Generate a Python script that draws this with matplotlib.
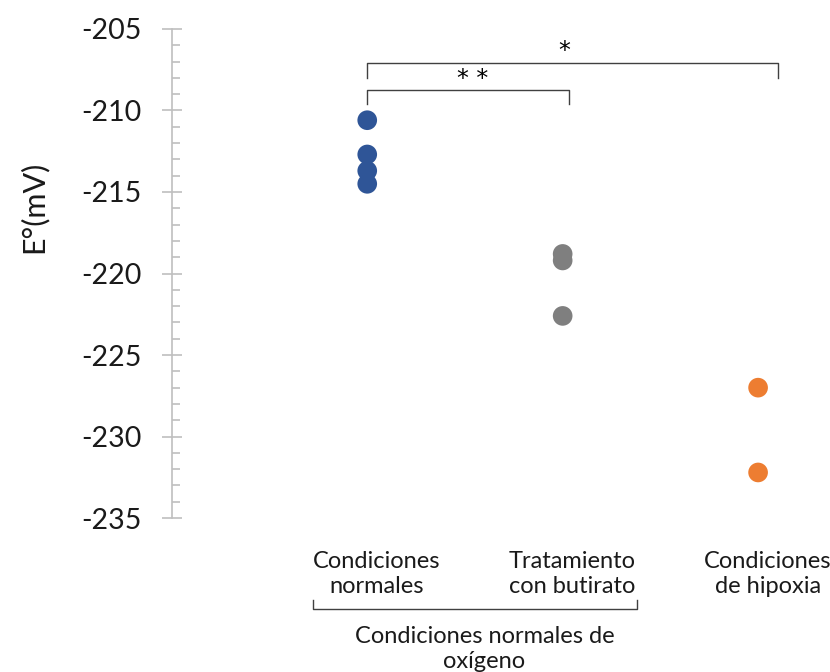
import matplotlib
matplotlib.use('Agg')
import matplotlib.pyplot as plt
from matplotlib.ticker import MultipleLocator

plt.rcParams['font.family'] = ['Lato', 'DejaVu Sans']
plt.rcParams['axes.unicode_minus'] = False

# redox potential per condition (mV)
x_pos = [1, 2, 3]
e_normal = [-210.6, -212.7, -213.7, -214.5]
e_butirato = [-218.8, -219.2, -222.6]
e_hipoxia = [-227.0, -232.2]
groups = [e_normal, e_butirato, e_hipoxia]
colors = ['#2F5597', '#7F7F7F', '#ED7D31']
cat_labels = ['Condiciones\nnormales', 'Tratamiento\ncon butirato', 'Condiciones\nde hipoxia']

fig = plt.figure(figsize=(8.3, 6.72), dpi=100)
ax = fig.add_axes([0.207, 0.229, 0.777, 0.728])

for xi, vals, c in zip(x_pos, groups, colors):
    ax.scatter([xi] * len(vals), vals, s=200, color=c, edgecolors='none', zorder=3)

ax.set_xlim(0, 3.3)
ax.set_ylim(-235, -205)
ax.yaxis.set_major_locator(MultipleLocator(5))
ax.yaxis.set_minor_locator(MultipleLocator(1))

for side in ['top', 'right', 'bottom']:
    ax.spines[side].set_visible(False)
ax.spines['left'].set_color('#BFBFBF')
ax.spines['left'].set_linewidth(1.2)
ax.tick_params(axis='y', which='major', direction='inout', length=15, width=1.2,
               color='#BFBFBF', labelsize=20.5, pad=14, labelcolor='#1a1a1a')
ax.tick_params(axis='y', which='minor', direction='in', length=6, width=1.2, color='#BFBFBF')
ax.set_xticks([])
fig.text(33 / 830, 1 - 207 / 672, 'E°(mV)', rotation=90, ha='center', va='center',
         fontsize=22, color='#1a1a1a')

# category labels under the points
for xi, lab in zip(x_pos, cat_labels):
    ax.text(xi + 0.05, -237.0, lab, ha='center', va='top', fontsize=17,
            linespacing=1.25, color='#1a1a1a')

# grouping bracket for the normal-oxygen conditions
kw = dict(color='#404040', lw=1.0, clip_on=False)
ax.plot([0.72, 0.72, 2.38, 2.38], [-240.0, -240.6, -240.6, -240.0], **kw)
ax.text(1.6, -241.6, 'Condiciones normales de\noxígeno', ha='center', va='top',
        fontsize=17, linespacing=1.25, color='#1a1a1a')

# significance brackets
ax.plot([1, 1, 3.1, 3.1], [-208.0, -207.1, -207.1, -208.0], **kw)
ax.text(2.01, -206.35, '*', ha='center', va='center', fontsize=17, family='DejaVu Sans')
ax.plot([1, 1, 2.03, 2.03], [-209.6, -208.75, -208.75, -209.6], **kw)
ax.text(1.54, -208.05, '* *', ha='center', va='center', fontsize=17, family='DejaVu Sans')

fig.savefig('out.png', dpi=100)
